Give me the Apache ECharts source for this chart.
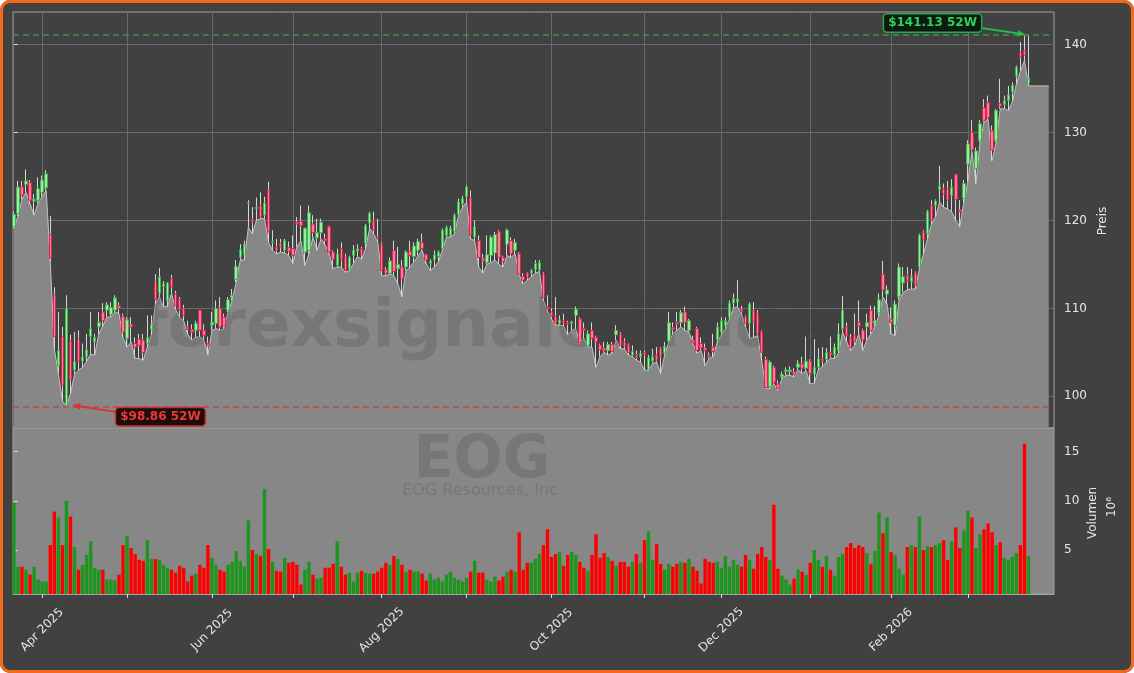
<!DOCTYPE html>
<html><head><meta charset="utf-8">
<script src="https://cdn.jsdelivr.net/npm/echarts@6/dist/echarts.min.js"></script>
<style>
html,body{margin:0;padding:0;background:#ffffff;}
#wrap{position:relative;width:1134px;height:673px;}
#chart{position:absolute;left:0;top:0;width:1134px;height:673px;border-radius:10px;overflow:hidden;}
#frame{position:absolute;left:0;top:0;width:1134px;height:673px;box-sizing:border-box;border:3px solid #f26b1d;border-radius:10px;pointer-events:none;}
</style></head>
<body><div id="wrap"><div id="chart"></div><div id="frame"></div></div>
<script>
// ---- data (trading-day index 0 = 21 Mar 2025) ----
const opens = [
119.3,120.8,123.8,124.1,124.3,122.2,122.3,123.2,123.7,118.4,
111.5,103.5,106.8,99.0,106.3,103.0,106.5,104.0,104.5,106.8,
106.2,107.9,109.6,109.8,109.3,109.8,110.3,109.1,106.6,108.2,
106.0,106.5,106.4,106.0,107.6,113.0,111.7,112.5,110.9,113.4,
111.7,111.0,110.0,107.9,107.6,107.5,109.8,107.5,106.0,108.1,
108.3,110.0,109.0,109.8,111.2,113.3,115.8,116.1,121.9,120.1,
121.3,121.7,120.6,123.4,117.5,117.0,117.4,116.6,116.9,116.8,
119.8,119.9,116.4,116.6,119.6,118.0,118.6,117.9,119.3,116.4,
114.9,116.8,115.8,114.5,116.0,116.5,116.8,117.4,119.7,120.0,
118.1,117.3,114.4,114.0,116.6,114.5,114.7,114.7,116.5,115.9,
116.6,117.5,116.1,115.1,115.5,115.9,116.8,118.3,118.3,118.7,
120.7,121.9,122.7,122.6,118.1,117.7,115.7,115.2,116.0,116.3,
118.7,115.8,117.3,117.7,116.6,116.2,113.6,114.0,114.0,114.4,
114.4,113.9,110.2,109.6,109.1,108.3,108.6,108.4,108.3,109.2,
108.8,107.7,105.8,107.5,106.7,105.8,105.5,105.2,105.9,107.0,
107.1,106.2,105.8,104.7,104.7,104.5,105.0,103.0,104.0,104.7,
105.4,104.9,106.3,107.8,108.4,108.4,109.6,107.5,106.4,107.7,
106.0,105.5,104.7,105.6,106.4,107.3,108.0,109.0,110.6,110.7,
109.9,109.0,108.3,109.8,109.4,107.3,104.2,101.1,103.3,101.4,
102.2,102.8,102.8,102.8,103.3,103.7,103.2,104.0,102.5,103.3,
104.3,104.2,105.0,104.7,105.2,107.7,107.9,106.6,107.0,108.4,
107.5,107.9,109.8,108.3,109.5,113.9,111.6,108.8,108.1,111.3,
112.9,113.8,113.0,114.0,114.7,118.7,118.5,121.7,121.7,123.5,
123.6,123.6,122.8,125.2,121.2,122.5,126.4,130.0,125.9,129.1,
132.8,133.4,130.2,129.1,133.3,133.2,133.6,134.6,136.4,139.1,
139.3,135.6];
const closes = [
120.7,123.8,122.9,124.5,122.3,122.4,123.6,124.6,125.3,115.7,
106.8,105.2,101.3,110.0,101.8,104.0,104.0,104.5,105.3,107.7,
106.7,108.4,108.6,110.4,110.1,111.2,110.0,107.3,108.7,107.9,
105.6,105.8,105.0,106.7,108.2,111.0,113.6,112.8,112.9,112.4,
110.3,109.8,109.2,107.6,107.3,108.3,107.5,106.9,105.8,108.4,
110.0,107.9,108.0,111.0,111.5,114.8,116.7,117.3,122.0,119.8,
121.5,120.4,122.0,118.7,117.6,116.6,117.0,117.7,116.5,116.0,
119.6,119.4,119.1,120.9,118.6,118.6,119.8,117.7,116.4,115.6,
116.2,115.5,114.3,115.8,116.6,116.8,116.1,119.4,120.8,118.9,
117.9,114.3,114.0,115.4,114.2,115.0,113.4,116.4,116.0,117.1,
117.6,116.8,115.5,115.4,116.1,116.4,118.9,119.2,119.1,120.6,
122.1,122.5,123.8,118.3,119.3,115.8,115.4,116.1,118.1,118.4,
115.8,115.3,118.9,116.2,117.5,113.9,113.2,113.5,114.3,115.1,
115.2,111.2,109.9,109.1,108.3,108.7,108.3,108.2,108.5,109.9,
106.1,107.5,107.1,106.6,106.2,105.3,105.2,105.9,105.1,107.5,
105.8,105.7,105.0,105.1,104.4,104.9,104.7,104.4,104.5,104.1,
104.5,105.7,108.4,107.6,108.2,109.5,108.4,108.6,106.1,105.2,
105.5,105.2,104.5,105.1,107.9,108.6,108.6,110.6,111.1,111.1,
109.6,108.3,110.5,108.5,107.1,105.0,101.0,103.9,101.6,100.9,
102.5,103.0,103.0,102.5,103.7,103.2,104.0,102.6,103.3,104.3,
104.0,105.0,104.6,105.6,107.1,109.8,106.9,105.5,106.2,108.0,
106.4,108.4,107.5,108.6,111.0,112.1,112.1,108.4,110.5,114.7,
113.6,113.1,113.6,112.6,118.3,117.8,121.0,120.0,122.2,123.9,
123.0,122.3,123.8,122.4,121.0,124.2,128.7,128.0,127.9,131.0,
131.4,131.7,128.0,132.5,133.0,133.6,134.3,135.4,137.4,138.6,
138.8,136.2];
const highs = [
121.0,124.5,124.5,125.8,124.6,123.0,124.9,125.1,125.7,120.5,
112.4,109.6,107.9,111.5,107.0,107.3,107.5,106.0,107.1,109.6,
107.1,109.6,110.6,110.7,110.7,111.5,110.7,109.4,109.0,109.0,
106.7,107.1,107.1,109.2,109.2,113.9,114.6,113.1,113.0,113.8,
112.0,111.3,110.4,108.6,108.2,108.6,109.8,108.2,106.8,109.6,
110.9,111.3,109.4,111.3,112.2,115.5,117.3,117.7,122.3,121.5,
122.6,123.2,122.7,124.4,118.9,117.9,117.9,117.9,117.6,118.3,
120.4,121.7,119.2,121.7,120.6,120.2,120.2,118.5,119.4,116.6,
116.8,117.5,116.2,116.0,117.2,117.3,117.0,119.6,121.0,121.0,
120.2,117.5,114.7,115.8,117.7,117.0,115.5,116.6,117.7,117.5,
117.9,118.5,116.2,115.6,116.6,116.6,119.1,119.4,119.4,120.8,
122.5,122.8,124.0,123.4,120.0,118.3,116.2,118.3,118.3,118.7,
118.9,116.0,119.1,118.1,117.9,116.4,114.0,114.1,114.5,115.5,
115.5,114.1,111.5,110.0,111.3,109.2,109.4,108.6,108.6,110.2,
109.0,108.4,107.5,108.4,106.9,106.0,106.2,106.2,106.2,108.1,
107.3,106.6,106.0,105.8,105.2,105.2,105.2,104.7,105.4,105.6,
105.6,106.2,109.6,108.4,109.6,109.8,110.2,108.8,106.9,107.9,
106.7,106.0,105.0,107.1,108.4,109.0,109.0,110.9,111.7,113.2,
110.3,109.2,110.7,110.7,109.8,107.5,104.5,104.1,103.5,101.8,
102.8,103.3,103.4,103.2,104.1,104.5,106.8,104.2,106.5,105.5,
105.6,105.5,106.8,106.0,108.3,111.4,108.4,107.1,109.4,110.9,
107.7,109.4,110.3,110.3,111.7,115.4,112.6,110.1,110.9,115.1,
114.7,114.7,114.5,114.2,118.5,118.9,121.2,122.3,122.4,126.2,
124.2,124.5,124.7,125.3,122.3,124.6,129.1,131.4,128.3,131.4,
133.8,134.2,130.8,132.7,136.1,134.2,135.3,135.7,137.6,140.3,
141.0,141.13];
const lows = [
119.1,120.5,122.4,123.2,121.9,120.6,122.0,122.7,123.4,115.3,
105.4,102.6,99.5,98.86,100.3,102.5,103.0,103.3,104.0,104.8,
104.7,107.1,108.0,109.0,109.0,109.6,109.4,106.7,105.6,106.2,
104.3,104.3,104.1,105.6,107.0,110.5,111.3,110.2,110.2,111.7,
109.9,109.0,108.6,107.1,106.4,106.7,106.8,106.4,104.7,107.5,
107.7,107.5,107.7,109.6,110.9,113.0,115.5,115.5,119.2,118.5,
120.0,120.2,120.2,117.5,116.6,116.2,116.4,116.3,116.0,115.1,
117.0,117.7,114.9,116.2,118.1,116.6,117.9,117.2,116.2,114.5,
114.7,114.7,114.1,114.3,115.1,115.9,115.6,116.8,119.1,118.5,
117.6,113.7,113.7,113.9,113.7,112.8,111.3,114.3,114.7,115.3,
116.0,116.6,115.1,114.3,114.7,115.3,116.6,118.1,118.1,118.5,
120.6,121.5,122.1,117.9,117.7,114.7,114.0,115.0,115.2,115.5,
115.0,114.7,116.0,115.8,116.2,113.8,112.8,113.2,113.6,114.0,
114.2,110.9,109.7,108.8,108.1,108.1,108.0,107.0,107.5,107.7,
106.0,106.6,105.6,105.6,103.3,104.5,105.0,104.7,104.9,106.4,
105.4,105.4,104.7,104.5,104.1,103.9,103.0,102.9,103.7,103.9,
102.6,104.7,106.2,107.1,107.5,107.9,107.5,107.3,106.0,104.9,
105.2,103.5,104.3,104.5,106.2,107.0,107.7,108.8,110.0,110.2,
109.4,107.9,106.6,106.7,106.9,104.1,100.9,100.9,101.4,100.7,
102.0,102.4,102.4,102.2,103.0,102.6,102.9,101.4,101.5,103.0,
103.4,103.9,104.3,104.3,104.9,107.3,106.2,105.2,105.8,107.1,
105.2,106.4,107.1,108.0,109.2,111.3,110.5,107.1,106.9,111.0,
111.8,112.1,112.2,112.2,114.5,116.2,117.9,119.6,120.4,122.1,
121.5,121.3,121.0,120.0,119.3,122.1,124.4,127.8,124.2,128.9,
131.2,131.5,126.8,128.9,132.7,132.7,132.5,133.5,135.5,137.0,
138.2,135.3];
const volumes = [ // millions
9.8,3.3,3.3,3.0,2.5,3.3,2.0,1.8,1.8,5.5,
8.9,8.3,5.5,10.0,8.4,5.3,3.0,3.5,4.5,5.9,
3.2,3.0,3.0,2.0,2.0,1.9,2.5,5.5,6.4,5.2,
4.6,4.0,3.9,6.0,4.1,4.1,4.0,3.5,3.2,3.0,
2.7,3.4,3.2,1.8,2.4,2.6,3.5,3.2,5.5,4.2,
3.5,3.0,2.8,3.5,3.8,4.9,3.9,3.3,8.0,5.0,
4.6,4.4,11.2,5.1,3.8,2.9,2.8,4.2,3.7,3.8,
3.5,1.5,3.0,3.8,2.5,2.1,2.2,3.2,3.2,3.6,
5.9,3.3,2.5,2.7,1.8,2.7,2.9,2.7,2.6,2.6,
2.8,3.2,3.7,3.5,4.4,4.1,3.5,2.8,3.0,2.8,
2.8,2.6,1.9,2.6,2.0,2.2,1.8,2.5,2.8,2.2,
2.0,1.8,2.2,2.8,3.9,2.7,2.7,2.0,1.8,2.3,
1.9,2.3,2.8,3.0,2.8,6.8,3.0,3.7,3.7,4.1,
4.6,5.5,7.1,4.3,4.6,4.8,3.4,4.5,4.8,4.5,
3.8,3.2,2.9,4.5,6.6,4.2,4.7,4.3,3.9,3.4,
3.8,3.8,3.3,3.8,4.6,3.7,6.0,6.9,4.0,5.6,
3.6,3.0,3.6,3.3,3.6,3.8,3.7,4.1,3.3,2.9,
1.6,4.1,3.8,3.7,3.8,3.2,4.4,3.3,4.0,3.5,
3.3,4.5,4.0,3.1,4.6,5.3,4.3,4.0,9.6,3.1,
2.4,2.0,1.5,2.1,3.0,2.8,2.5,3.7,5.0,4.0,
3.3,4.4,3.0,2.4,4.3,4.6,5.3,5.7,5.2,5.5,
5.3,4.7,3.6,4.9,8.8,6.7,8.3,4.8,4.5,3.1,
2.5,5.3,5.5,5.3,8.4,5.0,5.4,5.3,5.5,5.7,
6.0,4.0,5.9,7.3,5.2,7.0,9.0,8.3,5.2,6.6,
7.1,7.7,6.8,5.5,5.8,4.2,4.0,4.3,4.7,5.5,
15.8,4.4];
const monthTickIdx = [7,28,49,69,91,112,133,156,175,197,217,236];
const monthLabels  = ['Apr 2025','','Jun 2025','','Aug 2025','','Oct 2025','','Dec 2025','','Feb 2026',''];
const priceTicks = [100,110,120,130,140];
const volumeTicks = [5,10,15];
const padDays = 5;      // low-line held flat after last session
const ticker = 'EOG';
const company = 'EOG Resources, Inc';
const watermark = 'forexsignale.trade';

// ---- build ----
const N = closes.length;
const lastIdx = N - 1;
const xMin = -0.22, xMax = lastIdx + padDays + 1.3;
const areaData = lows.map((v,i)=>[i,v]);
areaData.push([lastIdx + padDays, lows[lastIdx]]);
const wickData = closes.map((c,i)=>[i, opens[i], c, lows[i], highs[i]]);
const bodyData = closes.map((c,i)=>[i, opens[i], c, Math.min(opens[i],c), Math.max(opens[i],c)]);
const volData = volumes.map((v,i)=>({value:[i,v], itemStyle:{color: closes[i] >= opens[i] ? '#1e961e' : '#ff0000'}}));
const hiVal = Math.max(...highs), hiIdx = highs.indexOf(hiVal);
const loVal = Math.min(...lows),  loIdx = lows.indexOf(loVal);

const FONT = '"DejaVu Sans", sans-serif';
const txt = '#e6e6e6';
const wm = 'rgba(65,65,65,0.22)';
const chart = echarts.init(document.getElementById('chart'), null, {renderer:'canvas'});
const option = {
  animation:false,
  backgroundColor:'#414141',
  grid:[
    {left:13, top:12, width:1041, height:416, show:true, backgroundColor:'#414141', borderColor:'#a3a3a3', borderWidth:1, containLabel:false, outerBoundsMode:'none'},
    {left:13, top:428, width:1041, height:166, show:true, backgroundColor:'#878787', borderColor:'#a3a3a3', borderWidth:1, containLabel:false, outerBoundsMode:'none'}
  ],
  xAxis:[
    {type:'value', gridIndex:0, min:xMin, max:xMax,
     axisLine:{show:false}, axisTick:{show:false, customValues:monthTickIdx}, axisLabel:{show:false},
     splitLine:{show:true, lineStyle:{color:'#6a6a6a', width:1}}},
    {type:'value', gridIndex:1, min:xMin, max:xMax,
     axisLine:{show:true, lineStyle:{color:'#a3a3a3'}},
     axisTick:{show:true, length:4, customValues:monthTickIdx, lineStyle:{color:'#dddddd'}},
     axisLabel:{show:true, customValues:monthTickIdx.filter((v,i)=>monthLabels[i]),
       formatter:(v)=>monthLabels[monthTickIdx.indexOf(Math.round(v))]||'',
       rotate:45, align:'center', verticalAlign:'middle', margin:36,
       color:txt, fontSize:12, fontFamily:FONT},
     splitLine:{show:false}}
  ],
  yAxis:[
    {type:'value', gridIndex:0, position:'right', min:96.4, max:143.7, scale:true,
     axisLine:{show:false},
     axisTick:{show:true, length:4, customValues:priceTicks, lineStyle:{color:'#dddddd'}},
     axisLabel:{show:true, customValues:priceTicks, margin:10, color:txt, fontSize:12, fontFamily:FONT},
     splitLine:{show:true, lineStyle:{color:'#6a6a6a', width:1}}},
    {type:'value', gridIndex:1, position:'right', min:0.53, max:17.4,
     axisLine:{show:false},
     axisTick:{show:true, length:4, customValues:volumeTicks, lineStyle:{color:'#dddddd'}},
     axisLabel:{show:true, customValues:volumeTicks, margin:10, color:txt, fontSize:12, fontFamily:FONT},
     splitLine:{show:false}}
  ],
  series:[
    {name:'low', type:'line', xAxisIndex:0, yAxisIndex:0, data:areaData, z:1,
     symbol:'none', lineStyle:{color:'#c2c2c2', width:1}, areaStyle:{color:'#878787', opacity:1, origin:'start'},
     markLine:{silent:true, symbol:'none', label:{show:false},
       data:[
         {yAxis:hiVal, lineStyle:{color:'#2fa356', type:[6,4], width:1.5, opacity:0.9}},
         {yAxis:loVal, lineStyle:{color:'#d23c3c', type:[6,4], width:1.5, opacity:0.9}}
       ]}},
    {name:'wick', type:'candlestick', xAxisIndex:0, yAxisIndex:0, data:wickData, z:3,
     encode:{x:0, y:[1,2,3,4]}, barWidth:1,
     itemStyle:{color:'#d6d6d6', color0:'#d6d6d6', borderColor:'#d6d6d6', borderColor0:'#d6d6d6', borderColorDoji:'#d6d6d6', borderWidth:1}},
    {name:'body', type:'candlestick', xAxisIndex:0, yAxisIndex:0, data:bodyData, z:4,
     encode:{x:0, y:[1,2,3,4]}, barWidth:3,
     itemStyle:{color:'#a4e6a4', color0:'#f5809c', borderColor:'#39b54a', borderColor0:'#e0234e', borderColorDoji:'#39b54a', borderWidth:1}},
    {name:'vol', type:'bar', xAxisIndex:1, yAxisIndex:1, data:volData, barWidth:3.4, z:3}
  ]
};
chart.setOption(option);

const pHi = chart.convertToPixel({xAxisIndex:0, yAxisIndex:0}, [hiIdx, hiVal]);
const pLo = chart.convertToPixel({xAxisIndex:0, yAxisIndex:0}, [loIdx, loVal]);
function arrow(x1,y1,x2,y2,color){
  const a = Math.atan2(y2-y1, x2-x1), L = 8, W = 3.2;
  const bx = x2 - L*Math.cos(a), by = y2 - L*Math.sin(a);
  return [
    {type:'line', z:20, silent:true, shape:{x1,y1,x2:bx,y2:by}, style:{stroke:color, lineWidth:1.8}},
    {type:'polygon', z:20, silent:true, shape:{points:[[x2,y2],[bx - W*Math.sin(a), by + W*Math.cos(a)],[bx + W*Math.sin(a), by - W*Math.cos(a)]]}, style:{fill:color}}
  ];
}
const hiLabel = {x:pHi[0]-96, y:pHi[1]-11.5};
const loLabel = {x:pLo[0]+94, y:pLo[1]+10.5};
const graphics = [
  {type:'text', z:2, silent:true, x:483, y:329, style:{text:watermark, font:'bold 66px '+FONT, fill:wm, align:'center', verticalAlign:'middle', textAlign:'center', textVerticalAlign:'middle'}},
  {type:'text', z:2, silent:true, x:482, y:462, style:{text:ticker, font:'bold 58px '+FONT, fill:wm, align:'center', verticalAlign:'middle', textAlign:'center', textVerticalAlign:'middle'}},
  {type:'text', z:2, silent:true, x:480, y:491, style:{text:company, font:'16px '+FONT, fill:wm, align:'center', verticalAlign:'middle', textAlign:'center', textVerticalAlign:'middle'}},
  {type:'text', z:20, silent:true, x:1103, y:221, rotation:Math.PI/2, style:{text:'Preis', font:'12px '+FONT, fill:txt, align:'center', verticalAlign:'middle', textAlign:'center', textVerticalAlign:'middle'}},
  {type:'text', z:20, silent:true, x:1093, y:513, rotation:Math.PI/2, style:{text:'Volumen', font:'12px '+FONT, fill:txt, align:'center', verticalAlign:'middle', textAlign:'center', textVerticalAlign:'middle'}},
  {type:'text', z:20, silent:true, x:1112, y:507, rotation:Math.PI/2, style:{text:'10⁶', font:'12px '+FONT, fill:txt, align:'center', verticalAlign:'middle', textAlign:'center', textVerticalAlign:'middle'}},
  ...arrow(hiLabel.x+50, hiLabel.y+5, pHi[0]-3, pHi[1], '#27c24c'),
  ...arrow(loLabel.x-44, loLabel.y-5, pLo[0]+6, pLo[1]-1, '#e0302f'),
  {type:'text', z:21, silent:true, x:hiLabel.x, y:hiLabel.y, style:{text:'$'+hiVal.toFixed(2)+' 52W', font:'bold 12px '+FONT, fill:'#2ed15a', align:'center', verticalAlign:'middle', textAlign:'center', textVerticalAlign:'middle', backgroundColor:'#0c1a10', borderColor:'#27a84a', borderWidth:1.5, borderRadius:3, padding:[3,4,2,4]}},
  {type:'text', z:21, silent:true, x:loLabel.x, y:loLabel.y, style:{text:'$'+loVal.toFixed(2)+' 52W', font:'bold 12px '+FONT, fill:'#ea3a3a', align:'center', verticalAlign:'middle', textAlign:'center', textVerticalAlign:'middle', backgroundColor:'#1f0c0c', borderColor:'#c63030', borderWidth:1.5, borderRadius:3, padding:[3,4,2,4]}}
];
chart.setOption({graphic:graphics});
</script>
</body></html>
